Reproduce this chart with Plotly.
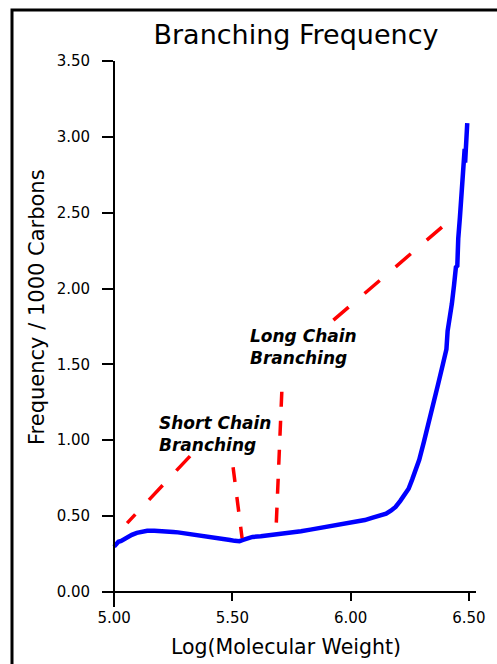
import plotly.graph_objects as go

# ---- data -------------------------------------------------------------
log_mw = [
    5.000, 5.008, 5.018, 5.030, 5.046, 5.060, 5.075, 5.096, 5.120, 5.140,
    5.170, 5.200, 5.225, 5.250, 5.270, 5.300, 5.330, 5.360, 5.400, 5.430,
    5.460, 5.490, 5.510, 5.530, 5.545, 5.560, 5.585, 5.620, 5.650, 5.690,
    5.720, 5.750, 5.790, 5.830, 5.870, 5.900, 5.930, 5.960, 6.000, 6.030,
    6.060, 6.090, 6.120, 6.150, 6.170, 6.190, 6.210, 6.230, 6.245, 6.260,
    6.275, 6.290, 6.310, 6.330, 6.350, 6.370, 6.390, 6.405, 6.410, 6.420,
    6.428, 6.437, 6.440, 6.445, 6.451, 6.452, 6.455, 6.462, 6.466, 6.472,
    6.476, 6.480, 6.482, 6.484, 6.487, 6.490, 6.493,
]
freq_per_1000c = [
    0.298, 0.315, 0.330, 0.335, 0.352, 0.368, 0.376, 0.389, 0.398, 0.402,
    0.403, 0.402, 0.401, 0.395, 0.392, 0.386, 0.380, 0.373, 0.363, 0.357,
    0.350, 0.342, 0.336, 0.334, 0.342, 0.352, 0.362, 0.366, 0.371, 0.380,
    0.386, 0.393, 0.400, 0.410, 0.420, 0.428, 0.433, 0.443, 0.455, 0.462,
    0.473, 0.488, 0.500, 0.515, 0.535, 0.560, 0.600, 0.645, 0.680, 0.740,
    0.800, 0.870, 0.990, 1.110, 1.230, 1.370, 1.500, 1.600, 1.720, 1.800,
    1.900, 2.020, 2.080, 2.140, 2.150, 2.290, 2.330, 2.470, 2.580, 2.700,
    2.800, 2.880, 2.920, 2.830, 3.000, 3.050, 3.090,
]

x_tick_vals = [5.0, 5.5, 6.0, 6.5]
x_tick_text = ["5.00", "5.50", "6.00", "6.50"]
y_tick_vals = [0.0, 0.5, 1.0, 1.5, 2.0, 2.5, 3.0, 3.5]
y_tick_text = ["0.00", "0.50", "1.00", "1.50", "2.00", "2.50", "3.00", "3.50"]

# callout labels: (text, x, y)
callout_labels = [
    ("Short Chain<br>Branching", 5.182, 1.04),
    ("Long Chain<br>Branching", 5.566, 1.615),
]
# dashed leader lines: (x_start, y_start, x_end, y_end, dash pattern)
leader_lines = [
    (5.321, 0.895, 5.055, 0.453, "20px,20px"),
    (5.503, 0.822, 5.541, 0.354, "15px,15px"),
    (5.709, 1.319, 5.685, 0.427, "15px,14px"),
    (6.386, 2.405, 5.913, 1.772, "20px,21px"),
]

# ---- layout geometry ----------------------------------------------------
W, H = 497, 664
ML, MR, MT, MB = 103, 21, 61, 57
X_RANGE = [4.953, 6.53]
Y_RANGE = [-0.1, 3.5]
FONT = "DejaVu Sans"

plot_w = W - ML - MR
plot_h = H - MT - MB


def px_to_paper_x(px):
    return (px - ML) / plot_w


def px_to_paper_y(py):
    return (H - MB - py) / plot_h


yaxis_pos = (x_tick_vals[0] - X_RANGE[0]) / (X_RANGE[1] - X_RANGE[0])
xaxis_pos = (0.0 - Y_RANGE[0]) / (Y_RANGE[1] - Y_RANGE[0])

fig = go.Figure()
fig.add_trace(go.Scatter(
    x=log_mw, y=freq_per_1000c, mode="lines",
    line=dict(color="#0000FF", width=4.5),
    hoverinfo="skip", showlegend=False,
))

axis_common = dict(showgrid=False, zeroline=False, linecolor="black",
                   linewidth=2, tickcolor="black", tickwidth=2,
                   tickfont=dict(family=FONT, size=15, color="black"))

fig.update_layout(
    width=W, height=H,
    margin=dict(l=ML, r=MR, t=MT, b=MB, pad=0),
    paper_bgcolor="white", plot_bgcolor="white",
    font=dict(family=FONT, color="black"),
    title=dict(text="Branching Frequency",
               font=dict(family=FONT, size=27, color="black"),
               x=px_to_paper_x(296), xref="paper", xanchor="center",
               y=1 - 35 / H, yref="container", yanchor="middle"),
    xaxis=dict(range=X_RANGE, anchor="free", position=xaxis_pos,
               showline=True, ticks="outside", ticklen=8,
               tickvals=x_tick_vals, ticktext=x_tick_text,
               ticklabelstandoff=4, **axis_common),
    yaxis=dict(range=Y_RANGE, anchor="free", position=yaxis_pos,
               showline=True, ticks="outside", ticklen=11,
               tickvals=y_tick_vals, ticktext=y_tick_text,
               ticklabelstandoff=9, **axis_common),
    yaxis2=dict(range=Y_RANGE, overlaying="y", anchor="free",
                position=yaxis_pos, side="left", showline=False,
                showgrid=False, zeroline=False, ticks="inside", ticklen=8,
                tickwidth=2, tickcolor="black", tickvals=y_tick_vals,
                showticklabels=False),
)

# axis titles
fig.add_annotation(text="Log(Molecular Weight)", xref="paper", yref="paper",
                   x=px_to_paper_x(286), y=px_to_paper_y(647),
                   xanchor="center", yanchor="middle", showarrow=False,
                   font=dict(family=FONT, size=20.5, color="black"))
fig.add_annotation(text="Frequency / 1000 Carbons", xref="paper", yref="paper",
                   x=px_to_paper_x(37), y=px_to_paper_y(307), textangle=-90,
                   xanchor="center", yanchor="middle", showarrow=False,
                   font=dict(family=FONT, size=21, color="black"))

# callout text
for text, cx, cy in callout_labels:
    fig.add_annotation(text=text, x=cx, y=cy, xref="x", yref="y",
                       xanchor="left", yanchor="middle", align="left",
                       showarrow=False,
                       font=dict(family=FONT, size=17, color="black",
                                 weight="bold", style="italic"))

# dashed leader lines
for x0, y0, x1, y1, dash in leader_lines:
    fig.add_shape(type="line", xref="x", yref="y", x0=x0, y0=y0, x1=x1, y1=y1,
                  line=dict(color="#FF0000", width=3.5, dash=dash))

# outer frame
fig.add_shape(type="rect", xref="paper", yref="paper",
              x0=px_to_paper_x(12), y0=px_to_paper_y(H + 20),
              x1=px_to_paper_x(W + 20), y1=px_to_paper_y(10),
              line=dict(color="black", width=3), fillcolor="rgba(0,0,0,0)",
              layer="above")

fig.write_html("out.html")
